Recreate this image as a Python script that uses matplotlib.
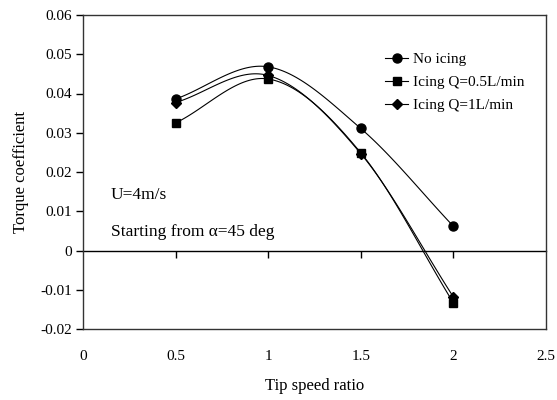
import numpy as np
import matplotlib
matplotlib.use("Agg")
import matplotlib.pyplot as plt

plt.rcParams['font.family'] = ['Liberation Serif', 'DejaVu Serif']

# data
tsr = [0.5, 1.0, 1.5, 2.0]
no_icing = [0.0386, 0.0468, 0.0311, 0.0062]
icing_05 = [0.0325, 0.0437, 0.0249, -0.0133]
icing_1 = [0.0377, 0.0446, 0.0247, -0.0118]

series = [
    ("No icing", no_icing, "o", 6.5),
    ("Icing Q=0.5L/min", icing_05, "s", 5.5),
    ("Icing Q=1L/min", icing_1, "D", 5),
]


def smooth(x, y, n=40):
    # Catmull-Rom style smoothing similar to Excel's smoothed line
    x = np.asarray(x, float)
    y = np.asarray(y, float)
    px = np.concatenate([[2 * x[0] - x[1]], x, [2 * x[-1] - x[-2]]])
    py = np.concatenate([[2 * y[0] - y[1]], y, [2 * y[-1] - y[-2]]])
    xs, ys = [], []
    t = np.linspace(0, 1, n)
    for i in range(1, len(px) - 2):
        p0, p1, p2, p3 = (np.array([px[j], py[j]]) for j in range(i - 1, i + 3))
        tt = t[:, None]
        pts = 0.5 * ((2 * p1) + (-p0 + p2) * tt + (2 * p0 - 5 * p1 + 4 * p2 - p3) * tt ** 2
                     + (-p0 + 3 * p1 - 3 * p2 + p3) * tt ** 3)
        xs.extend(pts[:, 0])
        ys.extend(pts[:, 1])
    return xs, ys


fig = plt.figure(figsize=(5.57, 4.0), dpi=100)
ax = fig.add_axes([0.149, 0.1775, 0.831, 0.785])

for label, vals, mk, ms in series:
    sx, sy = smooth(tsr, vals)
    ax.plot(sx, sy, color="black", lw=0.8)
    ax.plot(tsr, vals, linestyle="none", marker=mk, color="black", markersize=ms)
    ax.plot([], [], color="black", lw=0.8, marker=mk, markersize=ms, label=label)

ax.set_xlim(0, 2.5)
ax.set_ylim(-0.02, 0.06)
ax.set_xticks([0, 0.5, 1, 1.5, 2, 2.5])
ax.set_xticklabels(["0", "0.5", "1", "1.5", "2", "2.5"])
ax.set_yticks([-0.02, -0.01, 0, 0.01, 0.02, 0.03, 0.04, 0.05, 0.06])
ax.set_yticklabels(["-0.02", "-0.01", "0", "0.01", "0.02", "0.03", "0.04", "0.05", "0.06"])
ax.tick_params(axis="x", length=0, pad=15, labelsize=11)
ax.tick_params(axis="y", direction="out", length=5, width=1, labelsize=11, pad=3)

for sp in ax.spines.values():
    sp.set_linewidth(1)
    sp.set_color("#333333")

# zero line carrying the x tick marks
sec = ax.secondary_xaxis(0.25)
sec.set_xticks([0.5, 1, 1.5, 2])
sec.tick_params(direction="out", length=5, width=1, labelbottom=False)
sec.spines["bottom"].set_linewidth(1)

ax.set_xlabel("Tip speed ratio", fontsize=12, labelpad=11)
ax.set_ylabel("Torque coefficient", fontsize=12, labelpad=8)

ax.text(0.15, 0.0142, "U=4m/s", fontsize=12.5, va="center")
ax.text(0.15, 0.0048, "Starting from \u03b1=45 deg", fontsize=12.5, va="center")

ax.legend(loc="upper left", bbox_to_anchor=(0.64, 0.90), frameon=False, fontsize=11,
          handlelength=1.5, handletextpad=0.3, labelspacing=0.6, borderaxespad=0)

fig.savefig("out.png", dpi=100)
